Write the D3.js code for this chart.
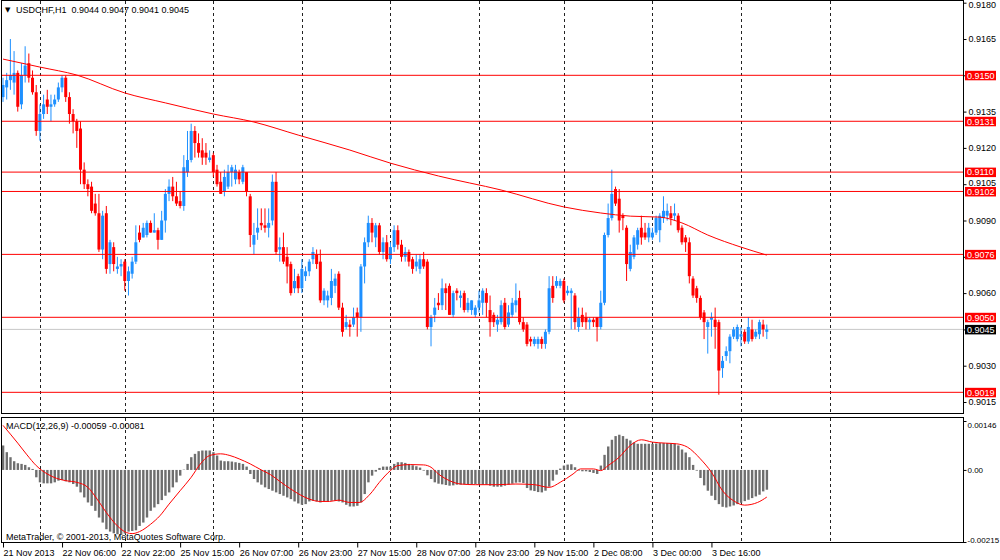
<!DOCTYPE html>
<html lang="en">
<head>
    <meta charset="UTF-8">
    <title>USDCHF,H1</title>
    <script src="https://d3js.org/d3.v7.min.js"></script>
    <style>
        body { margin: 0; background: #fff; }
        svg { display: block; font-family: "Liberation Sans", Arial, sans-serif; font-size: 9px; }
        .axis text { fill: #000; font-size: 9px; }
        .axis line { stroke: #000; }
    </style>
</head>
<body>
    <script>
        // H1 candles, bar 0 = 21 Nov 2013 14:00
        const opens = [
            0.9141,0.9145,0.9148,0.9147,0.9151,0.9138,0.9150,0.9155,0.9149,0.9143,
            0.9127,0.9134,0.9140,0.9137,0.9138,0.9140,0.9145,0.9149,0.9141,0.9134,
            0.9131,0.9128,0.9111,0.9105,0.9104,0.9097,0.9093,0.9078,0.9093,0.9072,
            0.9079,0.9070,0.9071,0.9073,0.9065,0.9068,0.9073,0.9085,0.9083,0.9084,
            0.9089,0.9085,0.9086,0.9082,0.9090,0.9101,0.9104,0.9100,0.9098,0.9096,
            0.9110,0.9115,0.9127,0.9122,0.9119,0.9118,0.9115,0.9117,0.9111,0.9106,
            0.9102,0.9104,0.9110,0.9107,0.9110,0.9106,0.9110,0.9100,0.9080,0.9085,
            0.9089,0.9088,0.9087,0.9090,0.9106,0.9078,0.9079,0.9075,0.9072,0.9062,
            0.9067,0.9062,0.9067,0.9069,0.9074,0.9076,0.9073,0.9057,0.9057,0.9058,
            0.9063,0.9068,0.9054,0.9046,0.9047,0.9047,0.9052,0.9050,0.9071,0.9081,
            0.9089,0.9083,0.9088,0.9077,0.9081,0.9074,0.9079,0.9086,0.9080,0.9075,
            0.9077,0.9074,0.9071,0.9070,0.9074,0.9073,0.9046,0.9051,0.9056,0.9055,
            0.9062,0.9063,0.9051,0.9061,0.9058,0.9060,0.9053,0.9053,0.9051,0.9054,
            0.9056,0.9060,0.9053,0.9051,0.9047,0.9048,0.9056,0.9047,0.9051,0.9055,
            0.9058,0.9048,0.9047,0.9041,0.9039,0.9039,0.9041,0.9039,0.9044,0.9063,
            0.9063,0.9063,0.9065,0.9060,0.9060,0.9059,0.9046,0.9051,0.9050,0.9048,
            0.9049,0.9050,0.9046,0.9056,0.9084,0.9091,0.9103,0.9099,0.9092,0.9087,
            0.9070,0.9075,0.9080,0.9087,0.9085,0.9083,0.9083,0.9085,0.9086,0.9091,
            0.9092,0.9093,0.9092,0.9092,0.9087,0.9083,0.9081,0.9066,0.9062,0.9058,
            0.9052,0.9046,0.9049,0.9049,0.9048,0.9029,0.9034,0.9036,0.9042,0.9041,
            0.9042,0.9044,0.9040,0.9045,0.9042,0.9043,0.9047,0.9044
        ];
        const highs = [
            0.9149,0.9151,0.9165,0.9160,0.9152,0.9155,0.9162,0.9159,0.9152,0.9146,
            0.9138,0.9142,0.9144,0.9142,0.9142,0.9147,0.9150,0.9150,0.9143,0.9136,
            0.9132,0.9131,0.9114,0.9107,0.9106,0.9101,0.9101,0.9094,0.9096,0.9082,
            0.9081,0.9075,0.9074,0.9074,0.9071,0.9075,0.9088,0.9088,0.9089,0.9090,
            0.9090,0.9093,0.9087,0.9094,0.9103,0.9107,0.9108,0.9106,0.9102,0.9117,
            0.9127,0.9130,0.9129,0.9126,0.9124,0.9122,0.9119,0.9118,0.9113,0.9110,
            0.9111,0.9113,0.9113,0.9113,0.9111,0.9113,0.9110,0.9101,0.9089,0.9095,
            0.9095,0.9095,0.9095,0.9109,0.9110,0.9083,0.9085,0.9079,0.9073,0.9070,
            0.9068,0.9074,0.9071,0.9074,0.9079,0.9078,0.9078,0.9062,0.9061,0.9070,
            0.9068,0.9069,0.9056,0.9051,0.9049,0.9054,0.9054,0.9072,0.9083,0.9092,
            0.9091,0.9089,0.9089,0.9083,0.9084,0.9081,0.9088,0.9088,0.9082,0.9079,
            0.9078,0.9075,0.9076,0.9076,0.9077,0.9074,0.9051,0.9058,0.9060,0.9066,
            0.9064,0.9064,0.9061,0.9062,0.9061,0.9061,0.9058,0.9057,0.9055,0.9061,
            0.9062,0.9062,0.9059,0.9052,0.9051,0.9057,0.9058,0.9055,0.9058,0.9064,
            0.9061,0.9050,0.9048,0.9042,0.9042,0.9042,0.9042,0.9045,0.9067,0.9067,
            0.9067,0.9066,0.9066,0.9063,0.9062,0.9060,0.9054,0.9054,0.9052,0.9050,
            0.9050,0.9050,0.9061,0.9085,0.9097,0.9111,0.9104,0.9103,0.9093,0.9088,
            0.9080,0.9084,0.9087,0.9092,0.9089,0.9089,0.9087,0.9092,0.9093,0.9100,
            0.9097,0.9096,0.9097,0.9093,0.9088,0.9084,0.9083,0.9067,0.9063,0.9059,
            0.9053,0.9049,0.9052,0.9054,0.9049,0.9034,0.9038,0.9043,0.9046,0.9047,
            0.9046,0.9045,0.9050,0.9049,0.9045,0.9049,0.9049,0.9047
        ];
        const lows = [
            0.9139,0.9140,0.9144,0.9142,0.9135,0.9136,0.9147,0.9147,0.9142,0.9125,
            0.9123,0.9132,0.9134,0.9131,0.9137,0.9139,0.9143,0.9139,0.9130,0.9126,
            0.9120,0.9105,0.9103,0.9100,0.9093,0.9092,0.9077,0.9074,0.9068,0.9068,
            0.9069,0.9068,0.9067,0.9061,0.9059,0.9066,0.9072,0.9081,0.9083,0.9083,
            0.9085,0.9085,0.9078,0.9082,0.9085,0.9098,0.9098,0.9096,0.9095,0.9094,
            0.9108,0.9114,0.9116,0.9116,0.9113,0.9113,0.9114,0.9108,0.9104,0.9101,
            0.9100,0.9103,0.9104,0.9105,0.9105,0.9105,0.9100,0.9079,0.9076,0.9082,
            0.9086,0.9085,0.9083,0.9088,0.9076,0.9073,0.9072,0.9064,0.9059,0.9060,
            0.9060,0.9060,0.9065,0.9067,0.9072,0.9070,0.9056,0.9055,0.9054,0.9055,
            0.9060,0.9053,0.9042,0.9045,0.9042,0.9046,0.9042,0.9044,0.9064,0.9079,
            0.9081,0.9079,0.9076,0.9074,0.9073,0.9072,0.9077,0.9078,0.9073,0.9073,
            0.9071,0.9068,0.9069,0.9068,0.9070,0.9045,0.9038,0.9048,0.9053,0.9053,
            0.9053,0.9051,0.9050,0.9057,0.9054,0.9052,0.9052,0.9051,0.9050,0.9052,
            0.9051,0.9050,0.9042,0.9046,0.9044,0.9047,0.9045,0.9046,0.9050,0.9052,
            0.9047,0.9044,0.9038,0.9038,0.9038,0.9037,0.9037,0.9037,0.9043,0.9056,
            0.9062,0.9062,0.9056,0.9059,0.9045,0.9045,0.9044,0.9046,0.9045,0.9045,
            0.9046,0.9040,0.9045,0.9055,0.9083,0.9090,0.9096,0.9085,0.9086,0.9065,
            0.9069,0.9074,0.9078,0.9080,0.9082,0.9081,0.9082,0.9084,0.9081,0.9089,
            0.9090,0.9088,0.9090,0.9085,0.9080,0.9077,0.9064,0.9058,0.9056,0.9049,
            0.9041,0.9035,0.9042,0.9037,0.9018,0.9025,0.9032,0.9031,0.9041,0.9040,
            0.9038,0.9039,0.9039,0.9040,0.9041,0.9041,0.9042,0.9041
        ];
        const closes = [
            0.9146,0.9148,0.9150,0.9151,0.9137,0.9150,0.9154,0.9149,0.9143,0.9127,
            0.9134,0.9138,0.9137,0.9138,0.9140,0.9145,0.9149,0.9141,0.9134,0.9131,
            0.9127,0.9111,0.9105,0.9103,0.9094,0.9093,0.9078,0.9092,0.9070,0.9081,
            0.9072,0.9071,0.9072,0.9065,0.9069,0.9073,0.9081,0.9082,0.9087,0.9089,
            0.9085,0.9086,0.9082,0.9090,0.9101,0.9104,0.9100,0.9097,0.9096,0.9112,
            0.9115,0.9127,0.9122,0.9118,0.9116,0.9116,0.9116,0.9110,0.9105,0.9101,
            0.9108,0.9110,0.9112,0.9111,0.9107,0.9112,0.9102,0.9084,0.9084,0.9087,
            0.9088,0.9087,0.9089,0.9106,0.9077,0.9079,0.9073,0.9071,0.9060,0.9065,
            0.9062,0.9070,0.9069,0.9073,0.9077,0.9072,0.9057,0.9061,0.9059,0.9065,
            0.9066,0.9054,0.9044,0.9048,0.9046,0.9050,0.9050,0.9071,0.9081,0.9089,
            0.9085,0.9088,0.9077,0.9081,0.9074,0.9079,0.9086,0.9080,0.9075,0.9077,
            0.9073,0.9070,0.9073,0.9074,0.9071,0.9046,0.9050,0.9054,0.9055,0.9062,
            0.9060,0.9051,0.9060,0.9060,0.9059,0.9053,0.9056,0.9057,0.9054,0.9057,
            0.9061,0.9056,0.9048,0.9048,0.9049,0.9055,0.9046,0.9052,0.9056,0.9057,
            0.9048,0.9045,0.9039,0.9040,0.9041,0.9041,0.9039,0.9044,0.9062,0.9058,
            0.9065,0.9065,0.9057,0.9061,0.9061,0.9048,0.9050,0.9048,0.9048,0.9049,
            0.9048,0.9046,0.9056,0.9084,0.9091,0.9101,0.9097,0.9090,0.9091,0.9072,
            0.9077,0.9083,0.9086,0.9083,0.9083,0.9087,0.9085,0.9091,0.9092,0.9094,
            0.9094,0.9091,0.9093,0.9086,0.9081,0.9081,0.9067,0.9059,0.9058,0.9050,
            0.9048,0.9048,0.9050,0.9046,0.9028,0.9032,0.9036,0.9042,0.9045,0.9046,
            0.9043,0.9040,0.9046,0.9041,0.9044,0.9048,0.9045,0.9045
        ];

        // moving average (read at a few bars)
        const maBars   = [0, 10, 20, 33, 44, 57, 68, 80, 94, 105, 118, 135, 152, 162, 170, 178, 184, 191, 200, 207];
        const maValues = [0.91567, 0.91534, 0.91501, 0.91427, 0.91386, 0.91340, 0.91307, 0.91253, 0.91191, 0.91137,
                          0.91084, 0.91026, 0.90956, 0.90931, 0.90918, 0.90914, 0.90890, 0.90840, 0.90790, 0.90757];

        const levels = [0.9150, 0.9131, 0.9110, 0.9102, 0.9076, 0.9050, 0.9019];
        const bid = 0.9045;
        const priceTicks = [0.9180, 0.9165, 0.9150, 0.9135, 0.9120, 0.9105, 0.9090, 0.9075, 0.9060, 0.9045, 0.9030, 0.9015];

        // MACD(12,26,9) main histogram, one per bar
        const macdHist = [
            0.00073,0.00053,0.00038,0.00026,0.00020,0.00018,0.00015,0.00008,0.00003,-0.00022,
            -0.00037,-0.00040,-0.00040,-0.00040,-0.00037,-0.00032,-0.00030,-0.00034,-0.00037,-0.00042,
            -0.00050,-0.00067,-0.00082,-0.00097,-0.00107,-0.00122,-0.00142,-0.00157,-0.00177,-0.00184,
            -0.00189,-0.00192,-0.00194,-0.00190,-0.00184,-0.00182,-0.00180,-0.00167,-0.00157,-0.00142,
            -0.00122,-0.00112,-0.00102,-0.00090,-0.00077,-0.00067,-0.00052,-0.00037,-0.00017,0.00001,
            0.00018,0.00038,0.00048,0.00056,0.00058,0.00058,0.00058,0.00053,0.00043,0.00028,
            0.00026,0.00026,0.00025,0.00023,0.00021,0.00018,0.00010,-0.00012,-0.00027,-0.00037,
            -0.00044,-0.00052,-0.00057,-0.00062,-0.00067,-0.00072,-0.00077,-0.00082,-0.00087,-0.00094,
            -0.00100,-0.00104,-0.00102,-0.00094,-0.00092,-0.00094,-0.00097,-0.00094,-0.00094,-0.00092,
            -0.00092,-0.00094,-0.00097,-0.00104,-0.00109,-0.00109,-0.00107,-0.00097,-0.00072,-0.00037,
            -0.00017,-0.00005,0.00006,0.00010,0.00010,0.00010,0.00018,0.00023,0.00023,0.00021,
            0.00018,0.00014,0.00011,0.00007,-0.00002,-0.00016,-0.00027,-0.00037,-0.00041,-0.00043,
            -0.00045,-0.00047,-0.00046,-0.00044,-0.00044,-0.00043,-0.00042,-0.00042,-0.00042,-0.00042,
            -0.00044,-0.00044,-0.00047,-0.00050,-0.00050,-0.00050,-0.00047,-0.00044,-0.00041,-0.00038,
            -0.00037,-0.00039,-0.00054,-0.00061,-0.00063,-0.00066,-0.00067,-0.00062,-0.00050,-0.00032,
            -0.00014,0.00004,0.00013,0.00016,0.00017,0.00008,-0.00002,-0.00004,-0.00004,-0.00006,
            -0.00009,-0.00012,0.00013,0.00045,0.00070,0.00090,0.00101,0.00105,0.00101,0.00093,
            0.00088,0.00082,0.00078,0.00078,0.00078,0.00078,0.00078,0.00079,0.00080,0.00080,
            0.00080,0.00080,0.00078,0.00073,0.00061,0.00052,0.00038,0.00015,-0.00002,-0.00024,
            -0.00046,-0.00062,-0.00077,-0.00090,-0.00102,-0.00110,-0.00112,-0.00109,-0.00106,-0.00102,
            -0.00098,-0.00093,-0.00089,-0.00084,-0.00079,-0.00074,-0.00064,-0.00059
        ];
        // signal line, read at a few bars
        const signalBars   = [0, 4, 6.5, 9, 12, 14.5, 17, 20, 23, 25.5, 28, 31, 33.5, 35, 37, 40, 42.5, 45, 48, 51,
                              53.5, 56, 59, 61.5, 64, 67, 70, 72.5, 75, 78, 80.5, 83, 86, 88.5, 91, 94, 96.5, 99.5, 102, 105,
                              107, 110.5, 114, 116, 118, 121, 124, 128, 134, 139, 144, 148, 151, 154.5, 156.5, 160, 162, 164,
                              167, 170, 173, 176, 179.5, 182.5, 185.5, 189, 192, 195, 198, 201, 204.5, 207];
        const signalValues = [0.00133, 0.00080, 0.00045, 0.00013, -0.00012, -0.00025, -0.00032, -0.00037, -0.00052, -0.00087,
                              -0.00127, -0.00167, -0.00187, -0.00190, -0.00184, -0.00162, -0.00137, -0.00102, -0.00062, -0.00022,
                              0.00018, 0.00043, 0.00048, 0.00043, 0.00033, 0.00018, 0.00000, -0.00014, -0.00034, -0.00057,
                              -0.00074, -0.00087, -0.00094, -0.00094, -0.00090, -0.00097, -0.00097, -0.00072, -0.00037, -0.00002,
                              0.00013, 0.00016, 0.00015, 0.00008, -0.00012, -0.00032, -0.00042, -0.00044, -0.00044, -0.00042,
                              -0.00044, -0.00052, -0.00037, -0.00012, 0.00003, 0.00003, -0.00002, 0.00013, 0.00038, 0.00073,
                              0.00090, 0.00083, 0.00080, 0.00078, 0.00068, 0.00033, -0.00007, -0.00062, -0.00092, -0.00105,
                              -0.00097, -0.00081];
        const macdTicks = [0.00146, 0, -0.00215];

        const timeLabels = ['21 Nov 2013', '22 Nov 06:00', '22 Nov 22:00', '25 Nov 15:00', '26 Nov 07:00', '26 Nov 23:00',
                            '27 Nov 15:00', '28 Nov 07:00', '28 Nov 23:00', '29 Nov 15:00', '2 Dec 08:00', '3 Dec 00:00', '3 Dec 16:00'];
        const labelBars = [0, 16, 32, 48, 64, 80, 96, 112, 128, 144, 160, 176, 192];
        const dayStartBars = [10, 33, 57, 81, 105, 129, 152, 176, 200, 224];

        const bull = '#1e90ff', bear = '#ff0000';

        const svg = d3.select('body').append('svg')
            .attr('width', 1000)
            .attr('height', 560);

        // 3.69 px per hourly bar
        const x = d3.scaleLinear().domain([0, 207]).range([3, 766.8]);
        const y = d3.scaleLinear().domain([0.9015, 0.9180]).range([402, 2.7]);
        const yMacd = d3.scaleLinear().domain([-0.00215, 0.00146]).range([542, 421]);

        const defs = svg.append('defs');
        defs.append('clipPath').attr('id', 'clipMain')
            .append('rect').attr('x', 2).attr('y', 1).attr('width', 961).attr('height', 412);
        defs.append('clipPath').attr('id', 'clipMacd')
            .append('rect').attr('x', 2).attr('y', 418).attr('width', 961).attr('height', 124);

        // vertical dashed grid, one per day
        const grid = svg.append('g');
        [[1, 413], [418, 542]].forEach(([y1, y2]) => {
            grid.selectAll(null).data(dayStartBars).join('line')
                .attr('x1', d => Math.round(x(d)) + 0.5)
                .attr('x2', d => Math.round(x(d)) + 0.5)
                .attr('y1', y1).attr('y2', y2)
                .attr('stroke', '#222')
                .attr('stroke-dasharray', '3,3');
        });

        const main = svg.append('g').attr('clip-path', 'url(#clipMain)');

        // bid line
        main.append('line')
            .attr('x1', 2).attr('x2', 963)
            .attr('y1', y(bid)).attr('y2', y(bid))
            .attr('stroke', '#c8c8c8');

        const bars = d3.range(closes.length);
        const clr = i => closes[i] >= opens[i] ? bull : bear;

        main.selectAll('line.wick').data(bars).join('line')
            .attr('class', 'wick')
            .attr('x1', i => x(i)).attr('x2', i => x(i))
            .attr('y1', i => y(highs[i])).attr('y2', i => y(lows[i]))
            .attr('stroke', clr);

        main.selectAll('rect.body').data(bars).join('rect')
            .attr('class', 'body')
            .attr('x', i => x(i) - 1.5)
            .attr('width', 3)
            .attr('y', i => y(Math.max(opens[i], closes[i])))
            .attr('height', i => Math.max(1, Math.abs(y(opens[i]) - y(closes[i]))))
            .attr('fill', clr);

        // horizontal levels
        main.selectAll('line.level').data(levels).join('line')
            .attr('class', 'level')
            .attr('x1', 2).attr('x2', 963)
            .attr('y1', d => y(d)).attr('y2', d => y(d))
            .attr('stroke', '#ff0000');

        main.append('path')
            .datum(maValues)
            .attr('fill', 'none')
            .attr('stroke', '#ff0000')
            .attr('d', d3.line()
                .x((d, i) => x(maBars[i]))
                .y(d => y(d))
                .curve(d3.curveMonotoneX));

        // MACD window
        const macd = svg.append('g').attr('clip-path', 'url(#clipMacd)');
        macd.selectAll('rect').data(macdHist).join('rect')
            .attr('x', (d, i) => x(i) - 1.1)
            .attr('width', 2.4)
            .attr('y', d => Math.min(yMacd(d), yMacd(0)))
            .attr('height', d => Math.abs(yMacd(d) - yMacd(0)))
            .attr('fill', '#6e6e6e');

        macd.append('path')
            .datum(signalValues)
            .attr('fill', 'none')
            .attr('stroke', '#ff0000')
            .attr('d', d3.line()
                .x((d, i) => x(signalBars[i]))
                .y(d => yMacd(d))
                .curve(d3.curveMonotoneX));

        // frames
        svg.append('rect').attr('x', 1.5).attr('y', 0.5).attr('width', 962).attr('height', 413)
            .attr('fill', 'none').attr('stroke', '#000');
        svg.append('rect').attr('x', 1.5).attr('y', 417.5).attr('width', 962).attr('height', 125)
            .attr('fill', 'none').attr('stroke', '#000');

        // price axis
        const priceAxis = svg.append('g').attr('class', 'axis')
            .attr('transform', 'translate(963.5,0)')
            .call(d3.axisRight(y).tickValues(priceTicks).tickSize(3).tickPadding(2)
                .tickFormat(d3.format('.4f')));
        priceAxis.select('.domain').remove();
        // labels hidden behind a tag are not drawn
        const tagged = levels.concat([bid]);
        priceAxis.selectAll('.tick text')
            .filter(d => tagged.some(l => Math.abs(l - d) < 0.00015))
            .remove();
        priceAxis.selectAll('.tick text')
            .attr('dy', d => d === 0.9180 ? '0.55em' : (d === 0.9105 ? '0.12em' : '0.32em'));

        const tags = svg.append('g');
        tags.selectAll('rect').data(levels).join('rect')
            .attr('x', 965).attr('width', 31)
            .attr('y', d => y(d) - 4.5).attr('height', 9.5)
            .attr('fill', '#ff0000');
        tags.selectAll('text').data(levels).join('text')
            .attr('x', 967).attr('y', d => y(d) + 3.3)
            .attr('fill', '#fff')
            .text(d => d.toFixed(4));
        tags.append('rect')
            .attr('x', 965).attr('width', 31)
            .attr('y', y(bid) - 4.5).attr('height', 9.5)
            .attr('fill', '#000');
        tags.append('text')
            .attr('x', 967).attr('y', y(bid) + 3.3)
            .attr('fill', '#fff')
            .text(bid.toFixed(4));

        // MACD axis
        const macdAxis = svg.append('g').attr('class', 'axis')
            .attr('transform', 'translate(963.5,0)')
            .call(d3.axisRight(yMacd).tickValues(macdTicks).tickSize(3).tickPadding(1)
                .tickFormat(d => d === 0 ? '0.00' : d.toFixed(5)));
        macdAxis.select('.domain').remove();
        macdAxis.selectAll('.tick text')
            .style('font-size', '8px')
            .attr('dy', (d, i) => i === 0 ? '0.75em' : (i === 2 ? '0.1em' : '0.32em'));

        // time axis
        const timeAxis = svg.append('g').attr('class', 'axis')
            .attr('transform', 'translate(0,542.5)')
            .call(d3.axisBottom(x).tickValues(labelBars).tickSize(5).tickPadding(2)
                .tickFormat((d, i) => timeLabels[i]));
        timeAxis.select('.domain').remove();
        timeAxis.selectAll('.tick text').attr('text-anchor', 'start').attr('x', 0);

        // captions
        svg.append('text').attr('x', 5).attr('y', 12)
            .style('font-family', 'DejaVu Sans').style('font-size', '7px')
            .text('▼');
        svg.append('text').attr('x', 16).attr('y', 12.5)
            .style('white-space', 'pre')
            .text('USDCHF,H1  0.9044 0.9047 0.9041 0.9045');
        svg.append('text').attr('x', 6).attr('y', 429)
            .text('MACD(12,26,9) -0.00059 -0.00081');
        svg.append('text').attr('x', 6).attr('y', 540)
            .text('MetaTrader, © 2001-2013, MetaQuotes Software Corp.');
    </script>
</body>
</html>
